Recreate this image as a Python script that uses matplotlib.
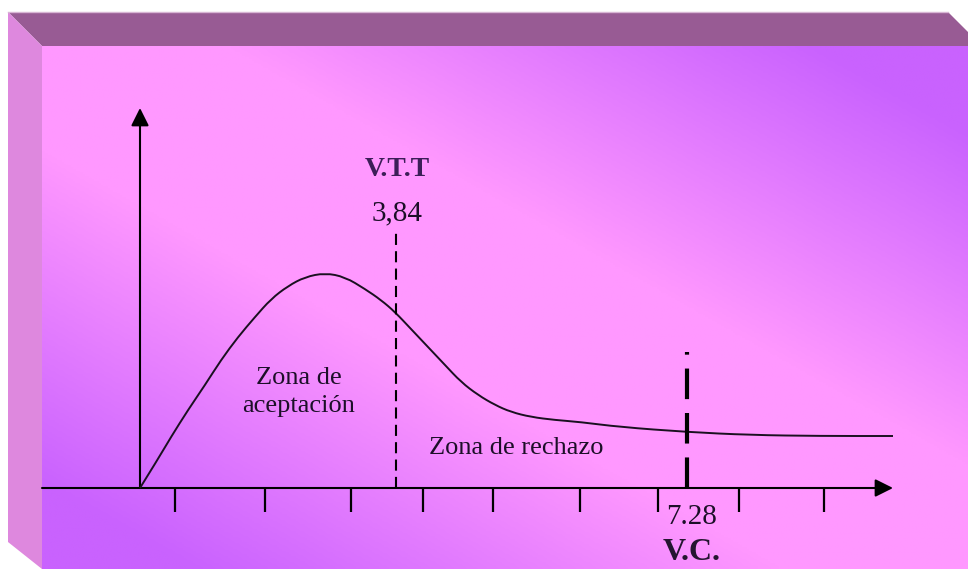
import numpy as np
import matplotlib
matplotlib.use("Agg")
import matplotlib.pyplot as plt
from matplotlib.patches import Polygon, PathPatch
from matplotlib.path import Path
from matplotlib.colors import LinearSegmentedColormap

# Schematic chi-square curve (arbitrary units)
curve_x = [0.00, 0.18, 0.31, 0.48, 0.65, 0.81, 0.98, 1.15, 1.31, 1.48,
           1.65, 1.85, 2.05, 2.25, 2.41, 2.55, 2.71, 2.88, 3.05, 3.21,
           3.38, 3.55, 3.71, 3.91, 4.15, 4.40, 4.80, 5.47, 6.10, 6.80, 7.53]
curve_y = [0.00, 0.29, 0.51, 0.78, 1.03, 1.28, 1.51, 1.71, 1.89, 2.02,
           2.11, 2.15, 2.11, 1.99, 1.88, 1.76, 1.59, 1.41, 1.23, 1.06,
           0.93, 0.83, 0.76, 0.71, 0.68, 0.66, 0.61, 0.56, 0.53, 0.52, 0.52]

tick_x = [0.35, 1.25, 2.11, 2.83, 3.53, 4.40, 5.18, 5.99, 6.84]

vtt_x = 2.56      # position of the table value 3,84
vtt_top = 2.55
vc_x = 5.47       # position of the computed value 7.28
vc_top = 1.36

vtt_name = "V.T.T"
vtt_value = "3,84"
vc_name = "V.C."
vc_value = "7.28"
zone_accept = "Zona de\naceptación"
zone_reject = "Zona de rechazo"

X_AXIS_END = 7.53
Y_AXIS_END = 3.80

# box layout
FACE_L, FACE_T, FACE_B = -0.98, 4.42, -0.81
BEV_L, BEV_T = -1.32, 4.76
XMIN, XMAX, YMIN, YMAX = -1.40, 8.28, -0.81, 4.88

plt.rcParams['lines.scale_dashes'] = False
serif = ['Liberation Serif', 'DejaVu Serif']
ink = '#1c0f28'


def smooth_path(xs, ys):
    # quadratic bezier through midpoints, so the read points render as a smooth stroke
    pts = list(zip(xs, ys))
    verts = [pts[0]]
    codes = [Path.MOVETO]
    for i in range(1, len(pts) - 1):
        mid = ((pts[i][0] + pts[i + 1][0]) / 2, (pts[i][1] + pts[i + 1][1]) / 2)
        verts += [pts[i], mid]
        codes += [Path.CURVE3, Path.CURVE3]
    verts.append(pts[-1])
    codes.append(Path.LINETO)
    return Path(verts, codes)


fig = plt.figure(figsize=(9.68, 5.69), dpi=100)
ax = fig.add_axes([0, 0, 1, 1])
ax.set_xlim(XMIN, XMAX)
ax.set_ylim(YMIN, YMAX)
ax.axis('off')

# gradient front face: purple at bottom-left / top-right, pink across the middle
purple = '#c962fe'
pink = '#ff98ff'
cmap = LinearSegmentedColormap.from_list(
    'box', [(0.0, purple), (0.08, purple), (0.40, pink), (0.60, pink),
            (0.92, purple), (1.0, purple)])
u, v = np.meshgrid(np.linspace(0, 1, 400), np.linspace(1, 0, 300))
t = (u + v) / 2
ax.imshow(t, cmap=cmap, vmin=0, vmax=1, aspect='auto', interpolation='bilinear',
          extent=[FACE_L, XMAX, FACE_B, FACE_T], zorder=0)

# bevels
top = Polygon([(BEV_L, BEV_T), (8.08, BEV_T), (8.42, FACE_T), (FACE_L, FACE_T)],
              closed=True, facecolor='#985b94', edgecolor='none', zorder=1)
left = Polygon([(BEV_L, BEV_T), (FACE_L, FACE_T), (FACE_L, FACE_B), (BEV_L, -0.54)],
               closed=True, facecolor='#de88de', edgecolor='none', zorder=1)
ax.add_patch(top)
ax.add_patch(left)
ax.plot([BEV_L, 8.08], [BEV_T, BEV_T], color='#d8b6d4', lw=1.0, zorder=2)

# axes with arrow heads
arrow = dict(arrowstyle='-|>,head_length=0.4,head_width=0.2', mutation_scale=27,
             lw=1.5, color='black', shrinkA=0, shrinkB=0)
ax.annotate('', xy=(X_AXIS_END, 0), xytext=(FACE_L, 0), arrowprops=arrow, zorder=3)
ax.annotate('', xy=(0, Y_AXIS_END), xytext=(0, 0), arrowprops=arrow, zorder=3)
ax.vlines(tick_x, -0.24, 0, colors='black', lw=1.6, zorder=3)

# curve
ax.add_patch(PathPatch(smooth_path(curve_x, curve_y), facecolor='none',
                       edgecolor='#1a1020', lw=1.4, zorder=4))

# critical value lines
ax.plot([vtt_x, vtt_x], [0, vtt_top], color='black', lw=1.5,
        dashes=(8, 4.5), dash_capstyle='butt', zorder=4)
ax.plot([vc_x, vc_x], [0, vc_top], color='black', lw=3.0,
        dashes=(22, 10), dash_capstyle='butt', zorder=4)

# labels
ax.text(vtt_x + 0.01, 3.18, vtt_name, family=serif, weight='bold', fontsize=20,
        color='#3c1e58', ha='center', va='center', zorder=5)
ax.text(vtt_x + 0.01, 2.75, vtt_value, family=serif, fontsize=21, color=ink,
        ha='center', va='center', zorder=5)
ax.text(1.59, 0.96, zone_accept, family=serif, fontsize=19, color=ink,
        ha='center', va='center', multialignment='center', linespacing=1.4, zorder=5)
ax.text(3.76, 0.40, zone_reject, family=serif, fontsize=19, color=ink,
        ha='center', va='center', zorder=5)
ax.text(vc_x + 0.05, -0.29, vc_value, family=serif, fontsize=21, color=ink,
        ha='center', va='center', zorder=5)
ax.text(vc_x + 0.05, -0.64, vc_name, family=serif, weight='bold', fontsize=23,
        color='#241530', ha='center', va='center', zorder=5)

fig.savefig('out.png', dpi=100)
